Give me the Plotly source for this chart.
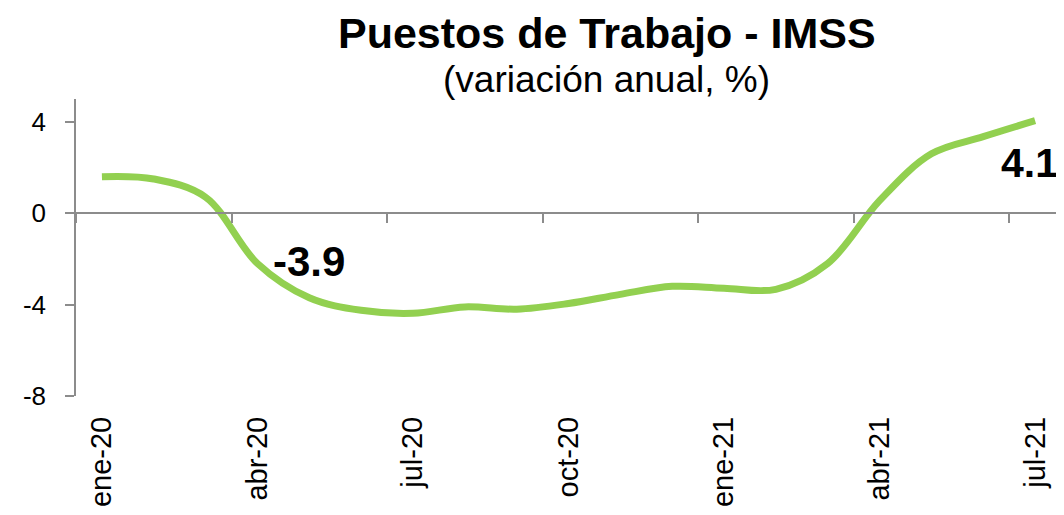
import plotly.graph_objects as go

months = ["ene-20", "feb-20", "mar-20", "abr-20", "may-20", "jun-20", "jul-20",
          "ago-20", "sep-20", "oct-20", "nov-20", "dic-20", "ene-21", "feb-21",
          "mar-21", "abr-21", "may-21", "jun-21", "jul-21"]
values = [1.6, 1.5, 0.7, -2.2, -3.7, -4.25, -4.38, -4.1, -4.2, -3.95, -3.55,
          -3.2, -3.28, -3.33, -2.2, 0.55, 2.6, 3.35, 4.05]
tick_idx = [0, 3, 6, 9, 12, 15, 18]
y_ticks = [4, 0, -4, -8]

x = list(range(len(months)))
GREEN = "#92D050"
AXIS = "#8C8C8C"
FONT = "Liberation Sans, Arial, sans-serif"

fig = go.Figure()
fig.add_trace(go.Scatter(x=x, y=values, mode="lines",
                         line=dict(color=GREEN, width=7, shape="spline", smoothing=1.0),
                         hoverinfo="skip", showlegend=False))
# invisible trace to activate the zero-crossing axis
fig.add_trace(go.Scatter(x=[x[0]], y=[0], xaxis="x2", mode="markers",
                         marker=dict(opacity=0), showlegend=False, hoverinfo="skip"))

# page body has an 8px default margin; margins compensate for that offset
fig.update_layout(
    width=1064, height=515,
    margin=dict(l=68, r=11, t=91, b=127),
    plot_bgcolor="white", paper_bgcolor="white",
    font=dict(family=FONT, color="black"),
    xaxis=dict(range=[-0.5, len(months) - 0.5], tickvals=[x[i] for i in tick_idx],
               ticktext=[months[i] for i in tick_idx], tickangle=-90,
               tickfont=dict(size=29, family=FONT), showgrid=False, zeroline=False,
               showline=False, ticks="", ticklabelstandoff=14, automargin=False),
    xaxis2=dict(range=[-0.5, len(months) - 0.5], overlaying="x", anchor="free",
                position=8 / 13, tickvals=[i - 0.5 for i in tick_idx],
                showticklabels=False, ticks="outside", ticklen=9, tickwidth=1.5,
                tickcolor=AXIS, showline=True, linecolor=AXIS, linewidth=1.5,
                showgrid=False, zeroline=False, automargin=False),
    yaxis=dict(range=[-8, 5], tickvals=y_ticks, ticktext=[str(v) for v in y_ticks],
               tickfont=dict(size=26, family=FONT), showgrid=False, zeroline=False,
               showline=True, linecolor=AXIS, linewidth=1.5, ticks="outside",
               ticklen=9, tickwidth=1.5, tickcolor=AXIS, ticklabelstandoff=14,
               automargin=False),
    annotations=[
        dict(text="<b>Puestos de Trabajo - IMSS</b>", xref="paper", yref="paper",
             x=0.539, y=1.222, xanchor="center", yanchor="middle", showarrow=False,
             font=dict(size=43, family=FONT)),
        dict(text="(variación anual, %)", xref="paper", yref="paper",
             x=0.539, y=1.064, xanchor="center", yanchor="middle", showarrow=False,
             font=dict(size=37, family=FONT)),
        dict(text="<b>-3.9</b>", xref="x", yref="y", x=4.0, y=-2.13,
             xanchor="center", yanchor="middle", showarrow=False,
             font=dict(size=42, family=FONT)),
        dict(text="<b>4.1</b>", xref="x", yref="y", x=17.3, y=2.2,
             xanchor="left", yanchor="middle", showarrow=False,
             font=dict(size=41, family=FONT)),
    ],
)

fig.write_html("out.html")
